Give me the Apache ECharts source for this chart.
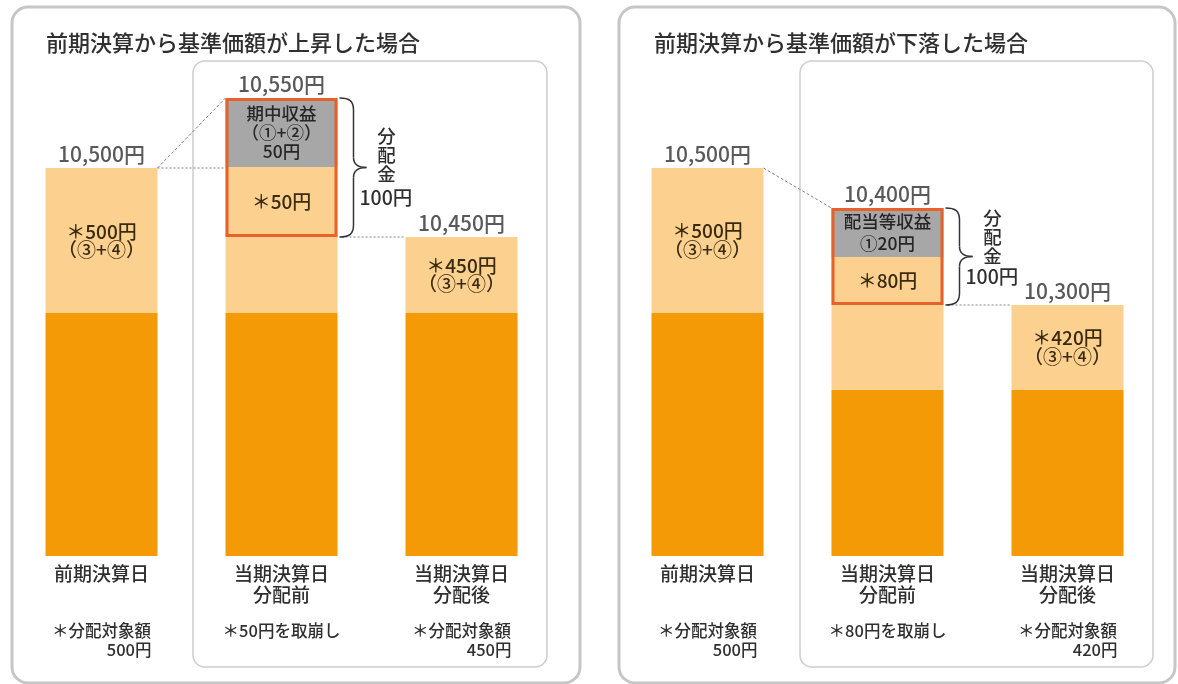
<!DOCTYPE html>
<html><head><meta charset="utf-8">
<script src="https://cdn.jsdelivr.net/npm/echarts@6/dist/echarts.min.js"></script>
<style>html,body{margin:0;padding:0;background:#fff}#c{width:1178px;height:684px}</style>
</head><body><div id="c"></div>
<script>
// ---- data (the figure is a schematic; segment heights are the drawn heights) ----
const categories = ['前期決算日', '当期決算日\n分配前', '当期決算日\n分配後'];
const titles = ['前期決算から基準価額が上昇した場合', '前期決算から基準価額が下落した場合'];

const upBase = [243, 243, 243];
const upLight = [145, 76, 76];
const upBoxLight = [null, 70, null];
const upGray = [null, 69, null];

const downBase = [243, 166, 166];
const downLight = [145, 85, 85];
const downBoxLight = [null, 48, null];
const downGray = [null, 49, null];

const upTotals = ['10,500円', '10,550円', '10,450円'];
const downTotals = ['10,500円', '10,400円', '10,300円'];
const upLightLabels = ['＊500円\n（③+④）', '', '＊450円\n（③+④）'];
const downLightLabels = ['＊500円\n（③+④）', '', '＊420円\n（③+④）'];
const upBoxLabels = ['', '＊50円', ''];
const downBoxLabels = ['', '＊80円', ''];
const upGrayLabels = ['', '期中収益\n（①+②）\n50円', ''];
const downGrayLabels = ['', '配当等収益\n①20円', ''];
const upNotes = [['＊分配対象額', '500円'], ['＊50円を取崩し', ''], ['＊分配対象額', '450円']];
const downNotes = [['＊分配対象額', '500円'], ['＊80円を取崩し', ''], ['＊分配対象額', '420円']];
const distText = ['分配金', '100円'];

// ---- styling ----
const FONT = '"Noto Sans CJK JP", "Noto Sans", sans-serif';
const DARK = '#F39A06', LIGHT = '#FCD08E', GRAY = '#A7A7A7', FRAME = '#E8602A';
const TXT = '#2f2f2f', SEGTXT = '#3a2a12';
const FW = 500;
const BW = 112;

const panels = [
  {base: upBase, light: upLight, boxLight: upBoxLight, gray: upGray, totals: upTotals,
   lightLabels: upLightLabels, boxLabels: upBoxLabels, grayLabels: upGrayLabels, notes: upNotes,
   grid: {left: 11.5, width: 540}, grayLH: 19, lightLH: 18, horiz: true, distDy: -13, amtDy: 30},
  {base: downBase, light: downLight, boxLight: downBoxLight, gray: downGray, totals: downTotals,
   lightLabels: downLightLabels, boxLabels: downBoxLabels, grayLabels: downGrayLabels, notes: downNotes,
   grid: {left: 617.5, width: 540}, grayLH: 22, lightLH: 19, horiz: false, distDy: -19.5, amtDy: 20.5}
];

function sum(arrs, i) { return arrs.reduce((s, a) => s + (a[i] || 0), 0); }

const grids = [], xAxes = [], yAxes = [], series = [];
panels.forEach((P, p) => {
  grids.push({left: P.grid.left, width: P.grid.width, top: 56, height: 500});
  xAxes.push({
    type: 'category', gridIndex: p, data: categories,
    axisLine: {show: false}, axisTick: {show: false},
    axisLabel: {
      margin: 7, interval: 0,
      formatter: function (v, i) {
        const parts = v.split('\n');
        const n = P.notes[i];
        let s = '{c|' + parts[0] + '}\n{c|' + (parts[1] || '　') + '}\n{g|　}\n';
        if (n[1]) s += '{n|' + n[0] + '}\n{r|' + n[1] + '}';
        else s += '{m|' + n[0] + '}';
        return s;
      },
      rich: {
        c: {fontSize: 19, lineHeight: 21, color: TXT, fontFamily: FONT, fontWeight: FW},
        g: {fontSize: 10, lineHeight: 16},
        n: {fontSize: 16.5, lineHeight: 19, color: TXT, fontFamily: FONT, fontWeight: FW, width: 100, align: 'center'},
        m: {fontSize: 16.5, lineHeight: 19, color: TXT, fontFamily: FONT, fontWeight: FW},
        r: {fontSize: 16.5, lineHeight: 19, color: TXT, fontFamily: FONT, fontWeight: FW, width: 100, align: 'right'}
      }
    }
  });
  yAxes.push({type: 'value', gridIndex: p, min: 0, max: 500, show: false, splitLine: {show: false}});

  const common = {type: 'bar', xAxisIndex: p, yAxisIndex: p, stack: 's' + p, barWidth: BW, barGap: '-100%', silent: true};
  series.push(Object.assign({}, common, {name: 'base' + p, data: P.base, itemStyle: {color: DARK}}));
  series.push(Object.assign({}, common, {
    name: 'light' + p, data: P.light, itemStyle: {color: LIGHT},
    label: {show: true, position: 'inside', formatter: q => P.lightLabels[q.dataIndex],
      fontSize: 19, lineHeight: P.lightLH, color: SEGTXT, fontFamily: FONT, fontWeight: FW}
  }));
  series.push(Object.assign({}, common, {
    name: 'boxLight' + p, data: P.boxLight, itemStyle: {color: LIGHT},
    label: {show: true, position: 'inside', formatter: q => P.boxLabels[q.dataIndex],
      fontSize: 19, color: SEGTXT, fontFamily: FONT, fontWeight: FW}
  }));
  series.push(Object.assign({}, common, {
    name: 'gray' + p, data: P.gray, itemStyle: {color: GRAY},
    label: {show: true, position: 'inside', formatter: q => P.grayLabels[q.dataIndex],
      fontSize: 17.5, lineHeight: P.grayLH, color: '#262626', fontFamily: FONT, fontWeight: FW}
  }));
  // frame around the distribution part
  const frameOff = categories.map((c, i) => P.boxLight[i] == null ? null : P.base[i] + P.light[i]);
  const frameH = categories.map((c, i) => P.boxLight[i] == null ? null : P.boxLight[i] + P.gray[i]);
  series.push(Object.assign({}, common, {name: 'frameOff' + p, stack: 'f' + p, data: frameOff,
    itemStyle: {color: 'rgba(0,0,0,0)'}}));
  series.push(Object.assign({}, common, {name: 'frame' + p, stack: 'f' + p, data: frameH, z: 5,
    itemStyle: {color: 'rgba(0,0,0,0)', borderColor: FRAME, borderWidth: 3}}));
  // totals labels
  series.push({
    type: 'scatter', xAxisIndex: p, yAxisIndex: p, silent: true, symbolSize: 1,
    itemStyle: {color: 'rgba(0,0,0,0)'},
    data: categories.map((c, i) => [i, sum([P.base, P.light, P.boxLight, P.gray], i)]),
    label: {show: true, position: 'top', distance: 3, formatter: q => P.totals[q.dataIndex],
      fontSize: 21, color: TXT, fontFamily: FONT, fontWeight: FW}
  });
});

const chart = echarts.init(document.getElementById('c'), null, {renderer: 'canvas'});
chart.setOption({
  animation: false,
  textStyle: {fontFamily: FONT},
  title: titles.map((t, p) => ({text: t, left: p === 0 ? 41 : 649, top: 27,
    textStyle: {fontSize: 22, fontWeight: FW, color: TXT, fontFamily: FONT}})),
  grid: grids, xAxis: xAxes, yAxis: yAxes, series: series
});

// ---- annotations (frames, connectors, braces) ----
const g = [];
const frames = [
  {x: 12, y: 7, w: 568, h: 676, r: 16, lw: 3, c: '#c6c6c6'},
  {x: 193, y: 61, w: 354, h: 606, r: 12, lw: 1.5, c: '#cdcdcd'},
  {x: 619, y: 7, w: 556, h: 676, r: 16, lw: 3, c: '#c6c6c6'},
  {x: 800, y: 61, w: 353, h: 606, r: 12, lw: 1.5, c: '#cdcdcd'}
];
frames.forEach(f => g.push({type: 'rect', z: -10, silent: true,
  shape: {x: f.x, y: f.y, width: f.w, height: f.h, r: f.r},
  style: {fill: 'none', stroke: f.c, lineWidth: f.lw}}));

const braceStyle = {fill: 'none', stroke: '#333', lineWidth: 1.5};
function curve(x1, y1, c1x, c1y, c2x, c2y, x2, y2) {
  g.push({type: 'bezierCurve', silent: true,
    shape: {x1: x1, y1: y1, cpx1: c1x, cpy1: c1y, cpx2: c2x, cpy2: c2y, x2: x2, y2: y2}, style: braceStyle});
}
function seg(x1, y1, x2, y2) {
  g.push({type: 'line', silent: true, shape: {x1: x1, y1: y1, x2: x2, y2: y2}, style: braceStyle});
}

panels.forEach((P, p) => {
  const px = (i, v) => chart.convertToPixel({xAxisIndex: p, yAxisIndex: p}, [i, v]);
  const tops = categories.map((c, i) => sum([P.base, P.light, P.boxLight, P.gray], i));
  const a = px(0, tops[0]), b = px(1, tops[1]), c3 = px(2, tops[2]);
  const half = BW / 2;
  g.push({type: 'line', silent: true, shape: {x1: a[0] + half, y1: a[1], x2: b[0] - half, y2: b[1]},
    style: {stroke: '#808080', lineWidth: 1, lineDash: [3, 2]}});
  if (P.horiz) {
    g.push({type: 'line', silent: true, shape: {x1: a[0] + half, y1: a[1], x2: b[0] - half, y2: a[1]},
      style: {stroke: '#808080', lineWidth: 1, lineDash: [2, 2]}});
  }
  const bot = px(1, P.base[1] + P.light[1]);
  g.push({type: 'line', silent: true, shape: {x1: b[0] + half + 4, y1: c3[1], x2: c3[0] - half, y2: c3[1]},
    style: {stroke: '#808080', lineWidth: 1, lineDash: [2, 2]}});
  // brace
  const xb = b[0] + half + 2, yT = b[1], yB = bot[1], yM = (yT + yB) / 2;
  const v = xb + 14, tip = xb + 27;
  curve(xb, yT, xb + 10, yT, v, yT + 3, v, yT + 12);
  seg(v, yT + 12, v, yM - 10);
  curve(v, yM - 10, v, yM - 3, v + 4, yM, tip, yM);
  curve(tip, yM, v + 4, yM, v, yM + 3, v, yM + 10);
  seg(v, yM + 10, v, yB - 12);
  curve(v, yB - 12, v, yB - 3, xb + 10, yB, xb, yB);
  const bright = b[0] + half;
  g.push({type: 'text', silent: true, x: bright + 49, y: yM + P.distDy,
    style: {text: distText[0].split('').join('\n'), fontSize: 18.5, lineHeight: 19, fill: TXT,
      fontFamily: FONT, fontWeight: FW, align: 'center', verticalAlign: 'middle'}});
  g.push({type: 'text', silent: true, x: bright + 22, y: yM + P.amtDy,
    style: {text: distText[1], fontSize: 19.5, fill: TXT, fontFamily: FONT, fontWeight: FW, align: 'left', verticalAlign: 'middle'}});
});
chart.setOption({graphic: g});
</script>
</body></html>
